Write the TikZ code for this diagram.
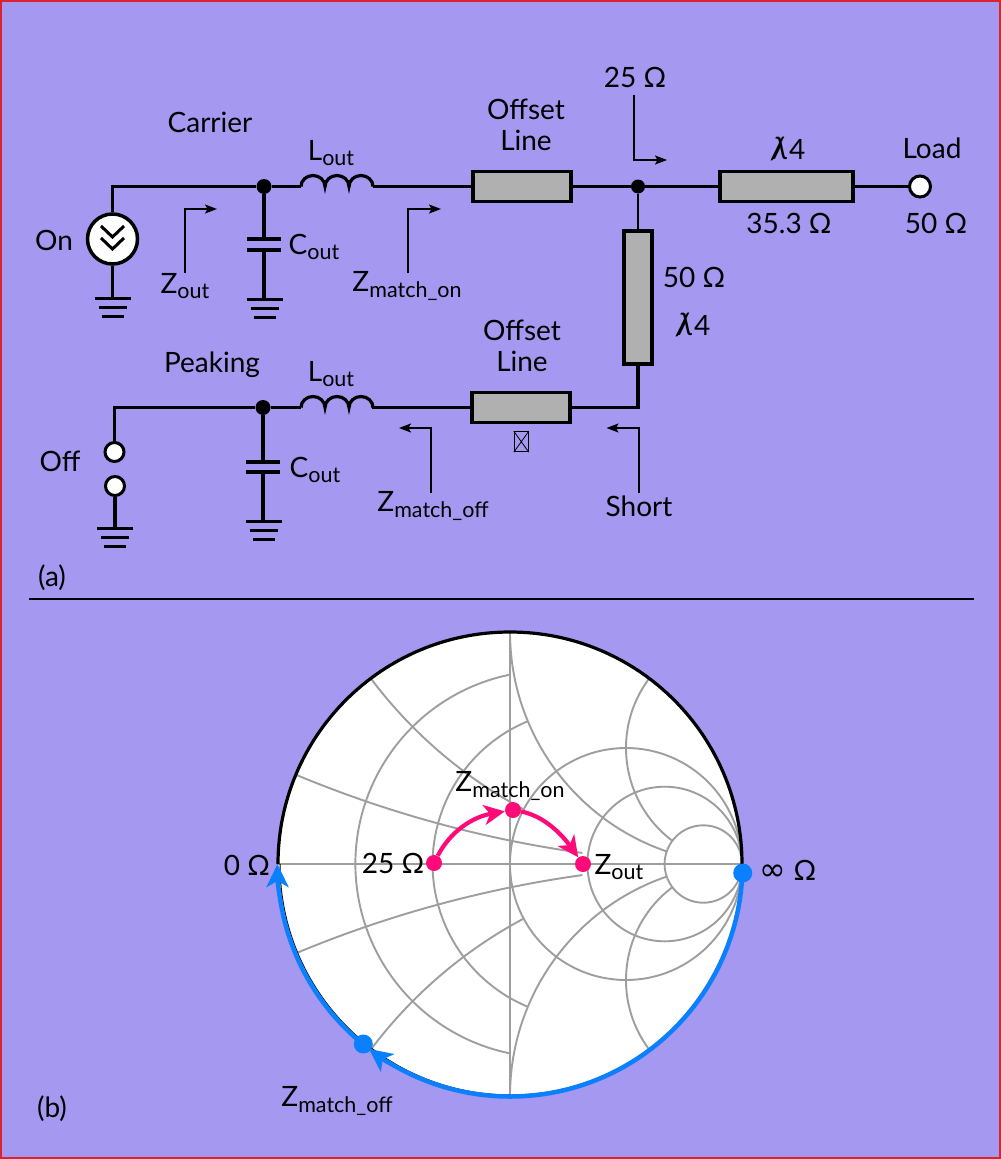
\documentclass[tikz,border=0pt]{standalone}
\usepackage{fontspec}
\setmainfont{Lato}
\newfontfamily\symfont{DejaVu Sans}
\usetikzlibrary{arrows.meta,calc}
\definecolor{bgpurple}{HTML}{A498F0}
\definecolor{framered}{HTML}{D9232E}
\definecolor{tlgray}{HTML}{B0B0B0}
\definecolor{smithgray}{HTML}{9E9E9E}
\definecolor{mkblue}{HTML}{0A80FF}
\definecolor{mkpink}{HTML}{FF0A78}
\newcommand{\lbl}{\fontsize{28}{31}\selectfont}
\newcommand{\subt}[1]{\raisebox{-0.2em}{\fontsize{21.5}{24}\selectfont #1}}
\newcommand{\lamq}{{\fontsize{31}{31}\selectfont\itshape λ\kern-0.56em/\kern0.17em}4}
\tikzset{
  wire/.style={draw=black,line width=3.2pt},
  thinwire/.style={draw=black,line width=2.8pt},
  tlbox/.style={draw=black,line width=3.2pt,fill=tlgray,inner sep=0pt,rectangle},
  jdot/.style={circle,fill=black,inner sep=0pt,minimum size=15pt},
  term/.style={circle,draw=black,line width=3pt,fill=white,inner sep=0pt,minimum size=19pt},
  srcnode/.style={circle,draw=black,line width=3.5pt,fill=white,inner sep=0pt,minimum size=50pt},
  probe/.style={draw=black,line width=1.6pt,-{Stealth[length=12pt,width=9pt,inset=2.5pt]}},
  txt/.style={inner sep=0pt,font=\lbl,align=center,text=black},
  gbar/.style={draw=black,line width=3pt},
  smith/.style={draw=smithgray,line width=1.9pt},
  bluearc/.style={draw=mkblue,line width=4.5pt},
  bluetip/.style={bluearc,-{Stealth[length=23pt,width=22pt,inset=6pt]}},
  pinkarc/.style={draw=mkpink,line width=4.2pt,-{Stealth[length=21pt,width=20pt,inset=6pt]}},
  pinkdot/.style={circle,fill=mkpink,inner sep=0pt,minimum size=16pt},
  bluedot/.style={circle,fill=mkblue,inner sep=0pt,minimum size=19pt},
}
\newcommand{\gnd}[2]{%
  \draw[gbar] (#1-18,#2) -- (#1+18,#2);
  \draw[gbar] (#1-14,#2+9) -- (#1+14,#2+9);
  \draw[gbar] (#1-11,#2+18) -- (#1+11,#2+18);}
\newcommand{\coil}[2]{%
  \draw[wire] (#1) arc[start angle=180,end angle=360,x radius=12,y radius=11]
    arc[start angle=180,end angle=360,x radius=12,y radius=11]
    arc[start angle=180,end angle=360,x radius=12,y radius=11];}
\begin{document}
\begin{tikzpicture}[x=1pt,y=1pt,yscale=-1]
\useasboundingbox (0,0) rectangle (1001,1159);
\fill[bgpurple] (0,0) rectangle (1001,1159);
\draw[framered,line width=2pt] (1,1) rectangle (1000,1158);

% ---------- carrier branch
\node[srcnode] (src) at (112.5,239) {};
\draw[black,line width=3pt] (101,226)--(112.5,237)--(124,226) (101,238)--(112.5,249)--(124,238);
\node[jdot] (J1) at (264,186.5) {};
\coordinate (G1) at (112.5,298);
\coordinate (C1a) at (264,239);
\coordinate (C1b) at (264,250);
\coordinate (G2) at (264,299);
\coordinate (L1a) at (301,186.5);
\coordinate (L1b) at (373,186.5);
\node[tlbox,minimum width=98pt,minimum height=30pt] (O1) at (522,186.5) {};
\node[jdot,minimum size=14pt] (J2) at (638,186.5) {};
\node[tlbox,minimum width=133pt,minimum height=30pt] (Q1) at (786.5,186.5) {};
\node[term,minimum size=21pt] (load) at (920,186.5) {};
\node[tlbox,minimum width=28pt,minimum height=133pt] (Q2) at (638,297.5) {};
\draw[wire] (src) |- (J1);
\draw[wire] (src) -- (G1);
\gnd{112.5}{298}
\draw[wire] (J1) -- (C1a);
\draw[wire] (247,239) -- (281,239);
\draw[wire] (247,250) -- (281,250);
\draw[wire] (C1b) -- (G2);
\gnd{264.5}{299}
\draw[wire] (J1) -- (L1a);
\coil{L1a}{L1b}
\draw[thinwire] (L1b) -- (O1);
\draw[thinwire] (O1) -- (J2);
\draw[thinwire] (J2) -- (Q1);
\draw[thinwire] (Q1) -- (load);
\draw[thinwire] (J2) -- (Q2);

% ---------- peaking branch
\node[term] (T1) at (114.5,452) {};
\node[term] (T2) at (115,486) {};
\node[jdot] (J3) at (263,407.5) {};
\coordinate (C2a) at (263,462);
\coordinate (C2b) at (263,472);
\coordinate (G3) at (263,521);
\coordinate (G4) at (115,528);
\coordinate (L2a) at (301,407.5);
\coordinate (L2b) at (372,407.5);
\node[tlbox,minimum width=98pt,minimum height=30pt] (O2) at (521,407.5) {};
\coordinate (K) at (638,407.5);
\draw[wire] (T1) |- (J3);
\draw[wire] (T2) -- (G4);
\gnd{115}{528}
\draw[wire] (J3) -- (C2a);
\draw[wire] (246,462) -- (280,462);
\draw[wire] (246,472) -- (280,472);
\draw[wire] (C2b) -- (G3);
\gnd{264}{521}
\draw[wire] (J3) -- (L2a);
\coil{L2a}{L2b}
\draw[wire] (L2b) -- (O2);
\draw[wire,line join=miter] (O2) -- (K) -- (Q2);

% undefined-glyph box under the lower offset line
\node[draw=black,line width=1pt,inner sep=0pt,minimum width=14pt,minimum height=20pt] (tofu) at (521.3,441.7) {};
\draw[black,line width=0.8pt] (tofu.north west) -- (tofu.south east) (tofu.north east) -- (tofu.south west);

% ---------- impedance probes
\coordinate (p1s) at (185,273); \coordinate (p1c) at (185,209); \coordinate (p1e) at (217,209);
\coordinate (p2s) at (407.7,273); \coordinate (p2c) at (407.7,209); \coordinate (p2e) at (441,209);
\coordinate (p3s) at (634,95); \coordinate (p3c) at (634,160); \coordinate (p3e) at (667,160);
\coordinate (p4s) at (431,493); \coordinate (p4c) at (431,428); \coordinate (p4e) at (399,428);
\coordinate (p5s) at (638.7,493); \coordinate (p5c) at (638.7,428); \coordinate (p5e) at (606.5,428);
\draw[probe] (p1s) -- (p1c) -- (p1e);
\draw[probe] (p2s) -- (p2c) -- (p2e);
\draw[probe] (p3s) -- (p3c) -- (p3e);
\draw[probe] (p4s) -- (p4c) -- (p4e);
\draw[probe] (p5s) -- (p5c) -- (p5e);

% ---------- circuit labels
\node[txt] (tCarrier) at (210,122) {Carrier};
\node[txt] (tL1) at (331,153) {L\subt{out}};
\node[txt] (tO1) at (526,125) {Offset\\[-0.02em]Line};
\node[txt] (t25) at (635,77) {25 Ω};
\node[txt] (tlam1) at (789,149) {\lamq};
\node[txt] (t353) at (789,223) {35.3 Ω};
\node[txt] (tLoad) at (932,148) {Load};
\node[txt] (t50a) at (936,223) {50 Ω};
\node[txt] (t50b) at (694,277) {50 Ω};
\node[txt] (tlam2) at (694,325) {\lamq};
\node[txt] (tO2) at (522,346) {Offset\\[-0.02em]Line};
\node[txt] (tOn) at (54,240) {On};
\node[txt] (tOff) at (60,461) {Off};
\node[txt] (tC1) at (314,247) {C\subt{out}};
\node[txt] (tC2) at (315,470) {C\subt{out}};
\node[txt] (tZ1) at (185,286) {Z\subt{out}};
\node[txt] (tZ2) at (407,286) {Z\subt{match\_on}};
\node[txt] (tPeak) at (212,365) {Peaking};
\node[txt] (tL2) at (331,374) {L\subt{out}};
\node[txt] (tZ3) at (433,506) {Z\subt{match\_off}};
\node[txt] (tShort) at (639,506) {Short};
\node[txt] (ta) at (52,578) {(a)};
\node[txt] (tb) at (52,1109) {(b)};
\coordinate (sepL) at (29,599);
\coordinate (sepR) at (974,599);
\draw[black,line width=1.6pt] (sepL) -- (sepR);

% ---------- Smith chart
\fill[white] (510,864) circle[radius=232];
\draw[smith] (510,632) -- (510,1096);
\draw[smith] (278,864) -- (742,864);
% constant resistance
\draw[smith] (548.7,864) ++(258.7:193.3) arc[start angle=258.7,end angle=101.3,radius=193.3];
\draw[smith] (587.3,864) ++(247.3:154.7) arc[start angle=247.3,end angle=112.7,radius=154.7];
\draw[smith] (626,864) circle[radius=116];
\draw[smith] (664.7,864) circle[radius=77.3];
\draw[smith] (703.3,864) circle[radius=38.7];
% constant reactance
\draw[smith] (742,-296) ++(112.64:1160) arc[start angle=112.64,end angle=97.91,radius=1160];
\draw[smith] (742,2024) ++(247.36:1160) arc[start angle=247.36,end angle=262.09,radius=1160];
\draw[smith] (742,400) ++(143.13:464) arc[start angle=143.13,end angle=118.08,radius=464];
\draw[smith] (742,1328) ++(216.87:464) arc[start angle=216.87,end angle=241.92,radius=464];
\draw[smith] (742,632) ++(180:232) arc[start angle=180,end angle=109.06,radius=232];
\draw[smith] (742,1096) ++(180:232) arc[start angle=180,end angle=250.94,radius=232];
\draw[smith] (742,748) ++(216.87:116) arc[start angle=216.87,end angle=126.87,radius=116];
\draw[smith] (742,980) ++(143.13:116) arc[start angle=143.13,end angle=233.13,radius=116];
% outline
\draw[black,line width=3.2pt] (278,864) arc[start angle=180,end angle=360,radius=232];
\draw[black,line width=1pt] (742,864) arc[start angle=0,end angle=180,radius=231];
% blue sweeps
\draw[bluearc] (742.5,864) arc[start angle=0,end angle=116,radius=232.5];
\draw[bluetip] ($(510,864)+(116:232.5)$) arc[start angle=116,end angle=127.3,radius=232.5];
\draw[bluearc] ($(510,864)+(129.2:232.5)$) arc[start angle=129.2,end angle=168,radius=232.5];
\draw[bluetip] ($(510,864)+(168:232.5)$) arc[start angle=168,end angle=180,radius=232.5];
\node[bluedot] (bRight) at (742.7,873) {};
\node[bluedot] (bMatch) at (363.3,1044) {};
% pink trajectory
\node[pinkdot] (pA) at (434,863) {};
\node[pinkdot] (pB) at (513,810) {};
\node[pinkdot] (pC) at (583,864) {};
\draw[pinkarc] (pA) .. controls (450,832) and (472,817) .. (pB);
\draw[pinkarc] (pB) .. controls (545,816) and (563,836) .. (pC);
% chart labels
\node[txt] (t0) at (247,865) {0 Ω};
\node[txt] (t25b) at (393,863) {25 Ω};
\node[txt] (tInf) at (788,870) {{\symfont\fontsize{32}{32}\selectfont ∞} Ω};
\node[txt] (tZo) at (619,867) {Z\subt{out}};
\node[txt] (tZm) at (510,786) {Z\subt{match\_on}};
\node[txt] (tZf) at (337,1101) {Z\subt{match\_off}};
\end{tikzpicture}
\end{document}
